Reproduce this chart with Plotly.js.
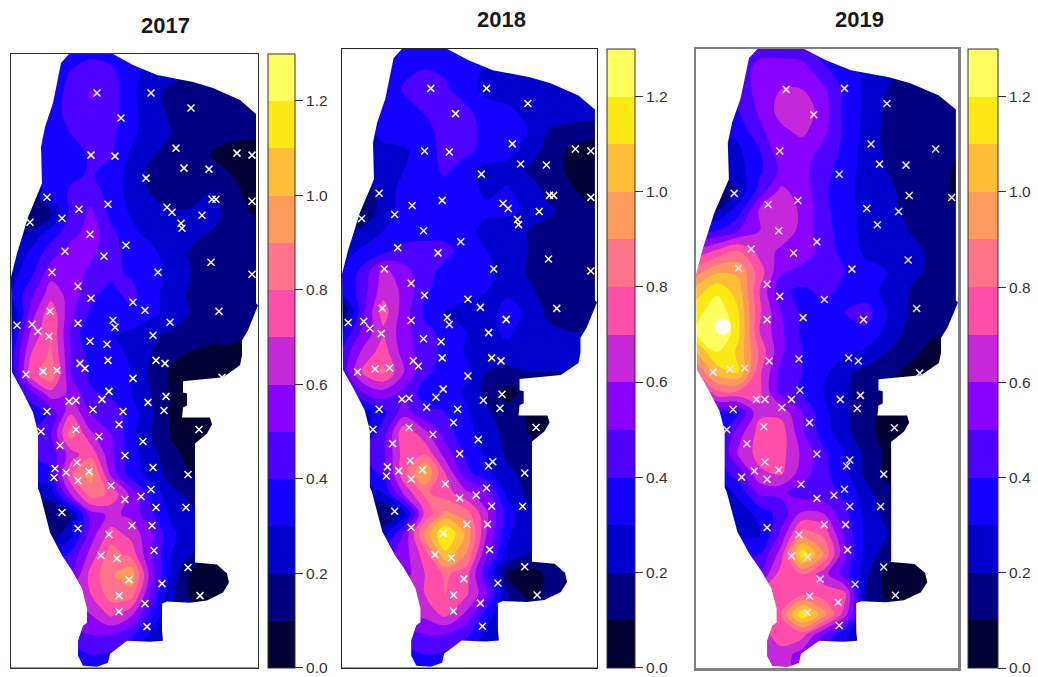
<!DOCTYPE html>
<html><head><meta charset="utf-8">
<script src="https://cdn.plot.ly/plotly-3.0.1.min.js"></script>
<style>html,body{margin:0;padding:0;background:#fff}#chart{width:1038px;height:677px}</style>
</head><body><div id="chart"></div>
<script>
const years = ['2017','2018','2019'];
const gridX = [0,20,40,60,80,100,120,140,160,180,200,220,240,260];
const gridY = [0,20,40,60,80,100,120,140,160,180,200,220,240,260,280,300,320,340,360,380,400,420,440,460,480,500,520,540,560,580,600,620];
const bandColors = ['#000033','#000080','#0000CC','#1400FF','#4D00FF','#8A00FF','#C428D8','#FF4DAA','#FF7488','#FF9A5C','#FFBE38','#FFE914','#FFFF60'];
const tickValues = [0,0.2,0.4,0.6,0.8,1.0,1.2];
const tickLabels = ['0.0','0.2','0.4','0.6','0.8','1.0','1.2'];

const z2017 = [
[.30,.30,.33,.36,.38,.36,.33,.28,.25,.22,.20,.18,.15,.15],
[.25,.30,.34,.41,.46,.43,.33,.26,.22,.20,.18,.16,.14,.14],
[.25,.30,.34,.44,.51,.45,.33,.22,.18,.16,.15,.14,.14,.14],
[.25,.30,.35,.44,.47,.45,.33,.25,.18,.15,.14,.13,.13,.13],
[.22,.31,.35,.40,.44,.43,.32,.25,.20,.16,.13,.12,.12,.12],
[.22,.31,.35,.37,.41,.41,.29,.21,.16,.13,.10,.07,.05,.05],
[.20,.30,.34,.38,.41,.36,.26,.17,.13,.12,.11,.10,.05,.05],
[.10,.15,.32,.42,.47,.35,.27,.20,.15,.16,.21,.14,.07,.05],
[.05,.10,.18,.43,.52,.37,.29,.25,.22,.22,.25,.15,.10,.10],
[.15,.22,.36,.46,.56,.43,.33,.27,.24,.22,.19,.14,.12,.12],
[.20,.33,.46,.57,.52,.43,.37,.33,.25,.19,.16,.13,.12,.12],
[.25,.38,.57,.58,.46,.42,.39,.34,.27,.20,.15,.13,.12,.12],
[.30,.47,.66,.56,.42,.37,.43,.33,.26,.18,.14,.12,.11,.11],
[.17,.55,.78,.52,.38,.36,.37,.32,.27,.19,.15,.12,.11,.11],
[.28,.62,.80,.48,.30,.30,.28,.22,.18,.15,.12,.11,.10,.10],
[.35,.70,.82,.50,.36,.34,.28,.20,.12,.09,.08,.09,.09,.09],
[.30,.75,.88,.50,.37,.35,.30,.18,.08,.06,.06,.06,.06,.06],
[.30,.45,.65,.58,.42,.38,.30,.20,.09,.07,.07,.07,.07,.07],
[.25,.33,.42,.70,.50,.47,.35,.22,.09,.08,.07,.07,.07,.07],
[.30,.40,.50,.85,.62,.50,.33,.20,.09,.06,.06,.06,.06,.06],
[.35,.40,.44,.65,.77,.52,.34,.24,.13,.07,.06,.06,.06,.06],
[.30,.33,.38,.78,.95,.58,.35,.27,.16,.10,.08,.08,.08,.08],
[.20,.22,.25,.60,.85,.78,.57,.37,.23,.18,.15,.15,.15,.15],
[.08,.08,.10,.18,.55,.62,.58,.42,.28,.22,.20,.20,.20,.20],
[.15,.15,.15,.27,.55,.75,.67,.52,.32,.25,.25,.25,.25,.25],
[.30,.30,.30,.42,.64,.85,.77,.50,.30,.20,.10,.10,.10,.10],
[.40,.45,.48,.48,.74,.88,.98,.55,.27,.07,.06,.08,.10,.10],
[.50,.55,.60,.60,.70,.85,.85,.48,.23,.08,.07,.10,.10,.10],
[.50,.55,.60,.60,.60,.72,.62,.38,.20,.15,.15,.15,.15,.15],
[.42,.42,.45,.45,.50,.50,.42,.28,.18,.18,.18,.18,.18,.18],
[.36,.36,.36,.36,.40,.38,.30,.25,.25,.25,.25,.25,.25,.25],
[.35,.35,.35,.35,.35,.35,.30,.25,.25,.25,.25,.25,.25,.25]];

const z2018 = [
[.30,.30,.33,.36,.37,.36,.33,.30,.28,.27,.27,.26,.25,.25],
[.30,.30,.33,.38,.40,.38,.33,.29,.28,.27,.27,.26,.25,.25],
[.30,.30,.33,.41,.47,.42,.34,.27,.27,.27,.27,.26,.25,.25],
[.30,.30,.33,.37,.41,.42,.42,.34,.31,.28,.27,.26,.25,.25],
[.25,.28,.33,.35,.37,.44,.44,.37,.34,.30,.20,.17,.16,.16],
[.25,.27,.28,.29,.33,.45,.43,.36,.33,.25,.17,.09,.05,.05],
[.20,.25,.28,.30,.35,.42,.33,.27,.27,.19,.16,.08,.05,.05],
[.10,.13,.27,.32,.36,.36,.34,.28,.31,.26,.17,.12,.06,.05],
[.08,.10,.25,.34,.36,.37,.36,.32,.33,.28,.22,.15,.12,.12],
[.15,.22,.30,.33,.36,.36,.33,.27,.23,.20,.16,.14,.13,.13],
[.25,.32,.37,.44,.44,.43,.36,.30,.26,.20,.15,.13,.13,.13],
[.30,.43,.63,.53,.44,.37,.33,.33,.26,.19,.13,.12,.09,.07],
[.30,.45,.66,.58,.42,.33,.33,.30,.27,.22,.16,.13,.13,.13],
[.08,.47,.75,.55,.38,.30,.27,.23,.36,.27,.18,.14,.13,.13],
[.30,.52,.68,.55,.42,.38,.30,.27,.32,.25,.22,.20,.20,.20],
[.42,.62,.75,.55,.45,.37,.29,.27,.27,.27,.25,.25,.25,.25],
[.42,.72,.82,.60,.42,.36,.33,.20,.17,.20,.20,.20,.20,.20],
[.30,.50,.57,.48,.36,.36,.28,.17,.07,.13,.15,.15,.15,.15],
[.25,.25,.37,.55,.42,.40,.32,.22,.13,.10,.10,.10,.10,.10],
[.30,.30,.45,.78,.63,.45,.32,.27,.15,.10,.07,.07,.07,.07],
[.40,.40,.48,.75,.78,.55,.38,.28,.18,.15,.15,.15,.15,.15],
[.35,.35,.42,.78,1.02,.70,.43,.33,.22,.17,.17,.17,.17,.17],
[.25,.25,.30,.62,.82,.75,.63,.52,.28,.18,.18,.18,.18,.18],
[.08,.08,.10,.25,.72,.92,.85,.62,.35,.22,.22,.22,.22,.22],
[.20,.20,.25,.50,.92,1.22,.98,.60,.32,.22,.22,.22,.22,.22],
[.40,.40,.45,.55,.75,1.08,.90,.52,.28,.20,.10,.10,.10,.10],
[.50,.50,.55,.55,.70,.82,.75,.42,.10,.05,.12,.15,.15,.15],
[.55,.60,.65,.65,.70,.80,.72,.52,.20,.06,.13,.15,.15,.15],
[.55,.60,.60,.60,.63,.73,.58,.35,.20,.20,.20,.20,.20,.20],
[.45,.45,.45,.45,.50,.50,.43,.28,.20,.20,.20,.20,.20,.20],
[.37,.37,.37,.37,.40,.38,.30,.25,.25,.25,.25,.25,.25,.25],
[.37,.37,.37,.37,.40,.38,.30,.25,.25,.25,.25,.25,.25,.25]];

const z2019 = [
[.38,.38,.40,.45,.45,.43,.35,.30,.25,.20,.20,.17,.15,.15],
[.33,.35,.42,.55,.56,.55,.42,.34,.28,.22,.18,.15,.14,.14],
[.30,.33,.42,.55,.60,.60,.52,.38,.28,.20,.15,.13,.12,.12],
[.30,.33,.40,.52,.64,.67,.55,.37,.28,.18,.13,.12,.11,.11],
[.28,.30,.34,.48,.58,.63,.53,.38,.27,.17,.13,.12,.11,.11],
[.22,.25,.28,.40,.57,.55,.48,.37,.26,.18,.14,.13,.11,.10],
[.20,.20,.26,.38,.52,.53,.44,.35,.26,.20,.15,.13,.10,.07],
[.10,.12,.22,.44,.62,.56,.42,.33,.27,.22,.17,.14,.10,.06],
[.17,.20,.35,.62,.67,.58,.43,.34,.27,.23,.18,.14,.11,.08],
[.38,.40,.50,.60,.67,.57,.44,.35,.27,.23,.20,.15,.12,.10],
[.62,.72,.80,.66,.58,.56,.46,.36,.28,.25,.25,.18,.12,.10],
[.85,.98,.98,.75,.52,.47,.43,.40,.33,.30,.26,.17,.13,.12],
[1.05,1.18,1.05,.70,.42,.38,.42,.38,.33,.28,.20,.15,.13,.13],
[1.15,1.28,1.10,.72,.50,.38,.38,.40,.45,.30,.20,.15,.13,.13],
[1.20,1.35,1.12,.70,.52,.38,.34,.37,.38,.27,.17,.12,.10,.10],
[1.00,1.20,1.08,.78,.52,.40,.35,.33,.28,.20,.13,.08,.07,.07],
[.80,1.05,1.10,.72,.47,.40,.33,.22,.17,.13,.08,.07,.07,.07],
[.50,.78,.78,.72,.47,.38,.30,.22,.14,.09,.08,.08,.08,.08],
[.38,.38,.40,.68,.67,.50,.33,.22,.13,.07,.06,.06,.06,.06],
[.33,.33,.55,.74,.76,.52,.35,.23,.13,.06,.06,.06,.06,.06],
[.35,.35,.62,.74,.74,.58,.42,.30,.17,.08,.08,.08,.08,.08],
[.35,.35,.45,.68,.72,.55,.43,.33,.17,.08,.08,.08,.08,.08],
[.20,.20,.33,.52,.52,.45,.44,.38,.24,.12,.12,.12,.12,.12],
[.20,.20,.23,.34,.44,.62,.60,.43,.27,.17,.17,.17,.17,.17],
[.27,.27,.27,.28,.52,.85,.78,.47,.28,.20,.20,.20,.20,.20],
[.40,.40,.40,.40,.64,1.18,.90,.52,.26,.15,.08,.08,.08,.08],
[.50,.50,.50,.50,.75,.80,.65,.45,.22,.07,.05,.05,.05,.05],
[.70,.70,.70,.70,.74,.78,.75,.74,.20,.07,.05,.05,.05,.05],
[.70,.70,.70,.70,.80,1.18,.95,.65,.20,.20,.20,.20,.20,.20],
[.65,.65,.65,.65,.75,.74,.50,.32,.20,.20,.20,.20,.20,.20],
[.63,.63,.63,.63,.66,.55,.40,.30,.25,.25,.25,.25,.25,.25],
[.63,.63,.63,.63,.66,.55,.40,.30,.25,.25,.25,.25,.25,.25]];

// Region outline (map units)
const outlineX = [58,102,122,146,182,202,229,245,245,247,245,237,231,231,229,212,172,172,176,176,172,171,199,201,196,184,184,206,216,218,212,196,179,156,151,151,152,139,116,99,97,86,72,67,67,72,76,76,71,61,51,39,29,27,27,22,12,1,0,6,11,17,24,31,30,34,42,50,58];
const outlineY = [0,0,11,21,28,34,46,60,249,251,256,276,286,301,311,323,327,338,339,351,353,363,363,370,379,389,508,510,519,528,538,546,548,547,549,576,586,587,586,599,608,612,611,601,586,571,568,554,534,516,501,478,439,434,378,358,338,318,223,199,183,163,146,129,93,73,49,9,0];

// Stations common to 2017 and 2018
const commonX = [86,140,180,110,165,80,104,226,241,173,198,135,36,97,68,156,161,201,205,241,191,51,19,170,171,79,115,54,93,200,41,147,241,67,80,122,134,39,208,102,104,67,159,6,21,27,38,142,79,96,97,145,69,74,154,32,46,15,122,98,155,91,58,65,137,82,153,36,112,108,65,188,30,88,132,49,114,66,142,44,55,78,43,177,67,100,140,130,114,145,175,51,121,141,67,98,143,90,106,177,118,151,189,108,134,108,136];
const commonY = [39,39,54,64,94,101,102,99,101,114,115,124,143,150,155,153,158,145,145,147,161,164,168,169,174,180,191,197,202,208,218,218,220,232,244,248,256,257,257,266,273,269,268,271,270,277,282,281,287,290,306,306,309,314,309,317,316,320,324,337,342,345,347,346,348,355,356,357,357,370,375,375,377,382,387,391,401,408,413,414,418,417,423,420,426,431,435,442,445,453,453,458,471,471,474,480,496,501,504,513,525,529,541,541,549,557,572];
const extra2017X = [211];
const extra2017Y = [323];
const extra2018X = [146,159];
const extra2018Y = [409,268];
const stations2019X = [85,140,180,111,165,79,226,173,198,135,36,96,68,161,201,241,191,171,78,114,52,92,200,40,147,67,79,121,158,208,67,101,97,144,153,69,32,46,16,211,98,155,90,57,65,136,81,152,35,107,64,187,29,48,114,65,145,142,55,78,43,67,177,99,140,130,114,145,174,121,141,67,97,143,90,105,177,117,150,188,107,134,105,135];
const stations2019Y = [40,39,54,65,94,101,99,114,115,124,143,150,154,158,145,147,161,174,180,191,198,202,209,217,218,233,245,248,268,257,268,266,307,306,309,309,317,316,320,321,338,343,347,347,347,347,355,356,357,370,374,375,377,391,401,409,407,413,418,417,424,426,421,431,436,442,445,453,453,471,471,474,481,496,502,503,513,525,530,541,542,548,558,571];

// The 2019 peak runs off the scale and is left unfilled
const offScaleX = [25];
const offScaleY = [275];

const panels = [
  {z:z2017, sx:commonX.concat(extra2017X), sy:commonY.concat(extra2017Y), l:11, r:258, t:54, b:667.7, cl:268, cw:27, title:165, ty:25, frame:'#333333', fw:1, mark:'#ffffff'},
  {z:z2018, sx:commonX.concat(extra2018X), sy:commonY.concat(extra2018Y), l:342, r:597, t:49, b:667.7, cl:607, cw:28, title:501, ty:20, frame:'#222222', fw:1, mark:'#ffffff'},
  {z:z2019, sx:stations2019X, sy:stations2019Y, l:696, r:958, t:49, b:668, cl:968, cw:30, title:859, ty:20, frame:'#808080', fw:2.5, mark:'#f0e6ff'}
];
const W = 1038, H = 677;
const scale = [];
bandColors.forEach((c,i)=>{ scale.push([i/13,c]); scale.push([(i+1)/13,c]); });

const traces = [], layout = {
  width:W, height:H, margin:{l:0,r:0,t:0,b:0}, paper_bgcolor:'#fff', plot_bgcolor:'#fff',
  showlegend:false, annotations:[], font:{family:'"Liberation Sans",Arial,sans-serif'}
};
const maskX = [0,247,247,0,0].concat(outlineX.slice().reverse(),[0]);
const maskY = [0,0,613,613,0].concat(outlineY.slice().reverse(),[0]);

panels.forEach((p,i)=>{
  const n = i===0 ? '' : String(i+1);
  layout['xaxis'+n] = {domain:[p.l/W,p.r/W], range:[0,247], anchor:'y'+n, showgrid:false, zeroline:false, showticklabels:false, ticks:'', showline:true, mirror:true, linecolor:p.frame, linewidth:p.fw};
  layout['yaxis'+n] = {domain:[(H-p.b)/H,(H-p.t)/H], range:[613,0], anchor:'x'+n, showgrid:false, zeroline:false, showticklabels:false, ticks:'', showline:true, mirror:true, linecolor:p.frame, linewidth:p.fw};
  traces.push({type:'contour', x:gridX, y:gridY, z:p.z, xaxis:'x'+n, yaxis:'y'+n, zmin:0, zmax:1.3,
    colorscale:scale, autocontour:false, contours:{start:0,end:1.3,size:0.1,coloring:'fill',showlines:false}, line:{width:0},
    hoverinfo:'skip',
    colorbar:{x:p.cl/W, xanchor:'left', xpad:0, ypad:0, y:(H-p.b)/H, yanchor:'bottom', len:(p.b-p.t)/H, lenmode:'fraction',
      thickness:p.cw, thicknessmode:'pixels', outlinewidth:1, outlinecolor:'#333', borderwidth:0,
      tickmode:'array', tickvals:tickValues, ticktext:tickLabels, ticks:'outside', ticklen:8, tickwidth:1, tickcolor:'#333',
      tickfont:{family:'"Liberation Sans",Arial,sans-serif', size:15.5, color:'#333'}}
  });
  traces.push({type:'scatter', mode:'lines', x:maskX, y:maskY, xaxis:'x'+n, yaxis:'y'+n, fill:'toself', fillcolor:'#ffffff', line:{width:0,color:'#ffffff'}, hoverinfo:'skip'});
  if(i===2) traces.push({type:'scatter', mode:'markers', x:offScaleX, y:offScaleY, xaxis:'x'+n, yaxis:'y'+n, marker:{symbol:'circle',size:16,color:'#ffffff',line:{width:0}}, hoverinfo:'skip'});
  traces.push({type:'scatter', mode:'markers', x:p.sx, y:p.sy, xaxis:'x'+n, yaxis:'y'+n, marker:{symbol:'x-thin', size:7, line:{color:p.mark,width:1.5}}, hoverinfo:'skip'});
  layout.annotations.push({text:'<b>'+years[i]+'</b>', xref:'paper', yref:'paper', x:p.title/W, y:(H-p.ty)/H, xanchor:'center', yanchor:'middle', showarrow:false, font:{family:'"Liberation Sans",Arial,sans-serif', size:22, color:'#1a1a1a'}});
});
Plotly.newPlot('chart', traces, layout, {displayModeBar:false, staticPlot:true});
</script></body></html>
